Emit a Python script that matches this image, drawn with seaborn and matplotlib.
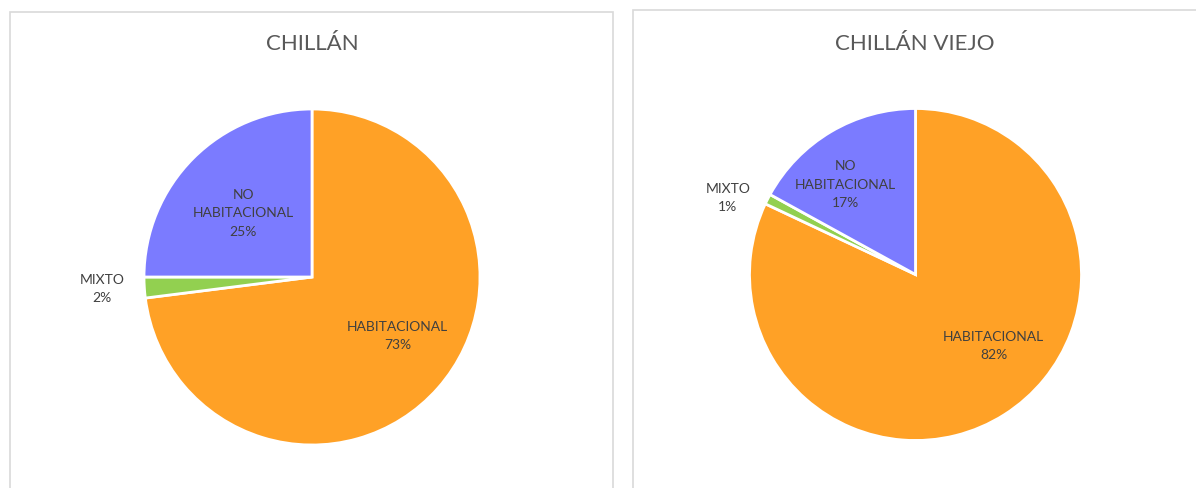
import matplotlib
matplotlib.use("Agg")
import matplotlib.pyplot as plt
import seaborn as sns
from matplotlib.patches import Rectangle

sns.set_theme(style="white")
plt.rcParams['font.family'] = ['Lato', 'DejaVu Sans']

# datos
categorias = ["HABITACIONAL", "MIXTO", "NO\nHABITACIONAL"]
chillan = [73, 2, 25]
chillan_viejo = [82, 1, 17]
titulos = ["CHILLÁN", "CHILLÁN VIEJO"]
colores = sns.color_palette(["#FFA126", "#92D050", "#7B7BFF"])

# posiciones de etiquetas (coordenadas del pie, radio 1)
pos_chillan = [(0.51, -0.35), (-1.25, -0.07), (-0.41, 0.38)]
pos_viejo = [(0.47, -0.43), (-1.13, 0.46), (-0.42, 0.54)]

W, H = 1196, 488
fig = plt.figure(figsize=(W / 100, H / 100), dpi=100)

# marcos de los paneles
for x0, x1, y0 in [(10, 613, 12), (633, 1210, 10)]:
    fig.patches.append(Rectangle((x0 / W, -0.05), (x1 - x0) / W, (H - y0) / H + 0.05,
                                 transform=fig.transFigure, fill=False,
                                 edgecolor="#D9D9D9", linewidth=1.2))

# ejes: (centro x, centro y, radio) en pixeles
ejes = [(312, 277, 168), (915.5, 274.5, 166)]
datos = [chillan, chillan_viejo]
posiciones = [pos_chillan, pos_viejo]
titulos_y = [44, 44]
titulos_x = [312, 915]

for (cx, cy, r), vals, pos, tit, ty, tx in zip(ejes, datos, posiciones, titulos, titulos_y, titulos_x):
    ax = fig.add_axes([(cx - r) / W, (H - cy - r) / H, 2 * r / W, 2 * r / H])
    ax.pie(vals, colors=colores, startangle=90, counterclock=False,
           wedgeprops=dict(edgecolor="white", linewidth=2))
    ax.set_xlim(-1, 1)
    ax.set_ylim(-1, 1)
    ax.set_aspect("equal")
    ax.axis("off")
    for cat, v, (px, py) in zip(categorias, vals, pos):
        ax.text(px, py, f"{cat}\n{v}%", ha="center", va="center",
                fontsize=10, color="#404040", linespacing=1.65, clip_on=False)
    fig.text(tx / W, 1 - ty / H, tit, ha="center", va="center",
             fontsize=16, color="#595959")

fig.savefig("out.png", dpi=100)
